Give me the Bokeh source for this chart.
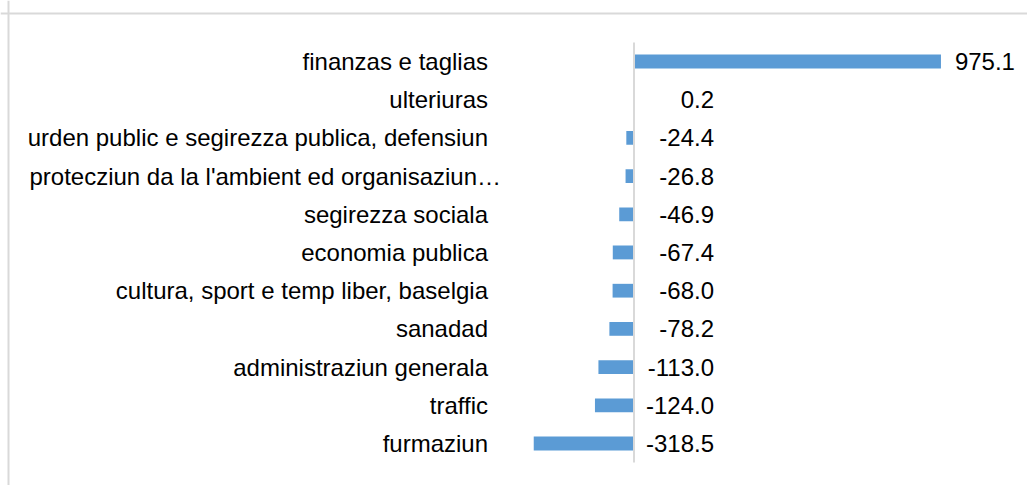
from bokeh.plotting import figure
from bokeh.models import ColumnDataSource, Range1d, Span
from bokeh.core.properties import value
from bokeh.embed import file_html
from bokeh.resources import INLINE

categories = [
    "finanzas e taglias",
    "ulteriuras",
    "urden public e segirezza publica, defensiun",
    "protecziun da la l'ambient ed organisaziun…",
    "segirezza sociala",
    "economia publica",
    "cultura, sport e temp liber, baselgia",
    "sanadad",
    "administraziun generala",
    "traffic",
    "furmaziun",
]
values = [975.1, 0.2, -24.4, -26.8, -46.9, -67.4, -68.0, -78.2, -113.0, -124.0, -318.5]
value_labels = ["975.1", "0.2", "-24.4", "-26.8", "-46.9", "-67.4", "-68.0", "-78.2", "-113.0", "-124.0", "-318.5"]

n = len(categories)
ys = [n - 1 - i for i in range(n)]
label_x = [max(v, 0) for v in values]
zeros = [0] * n
# truncated labels: Excel right-aligns the text before the ellipsis
cat_off = [-133 if c.endswith("…") else -146 for c in categories]
lab_off = [74 if v > 1 else 80 for v in values]

src = ColumnDataSource(dict(y=ys, v=values, cat=categories, lab=value_labels,
                            lx=label_x, z=zeros, co=cat_off, lo=lab_off))

W, H = 1027, 485
px_per_unit = 0.3148
row_px = 38.2
zero_px = 633.5          # zero position within canvas
top_row_px = 61.0        # centre of first row within canvas

x0 = -zero_px / px_per_unit
x1 = (W - zero_px) / px_per_unit
y_top = (n - 1) + top_row_px / row_px
y_bot = (n - 1) - (H - top_row_px) / row_px

p = figure(width=W, height=H, output_backend="svg", toolbar_location=None,
           x_range=Range1d(x0, x1), y_range=Range1d(y_bot, y_top),
           x_axis_location=None, y_axis_location=None, min_border=0)
p.grid.visible = False
p.outline_line_color = None
p.background_fill_color = "white"
p.border_fill_color = "white"

# chart area border (top and left)
p.add_layout(Span(location=y_top - 13.0 / row_px, dimension="width",
                  line_color="#d9d9d9", line_width=2))
p.add_layout(Span(location=x0 + 8.0 / px_per_unit, dimension="height",
                  line_color="#d9d9d9", line_width=2))

p.hbar(y="y", left="z", right="v", height=0.36, source=src,
       fill_color="#5b9bd5", line_color=None)

# vertical axis line at zero
p.segment(x0=[0], y0=[-0.5], x1=[0], y1=[n - 0.5], line_color="#d9d9d9", line_width=2)

p.text(x="z", y="y", text="cat", source=src, x_offset="co",
       text_align="right", text_baseline="middle",
       text_font=value("Liberation Sans"), text_font_size="24px", text_color="#000000")

p.text(x="lx", y="y", text="lab", source=src, x_offset="lo",
       text_align="right", text_baseline="middle",
       text_font=value("Liberation Sans"), text_font_size="24px", text_color="#000000")

open("out.html", "w").write(file_html(p, INLINE))
